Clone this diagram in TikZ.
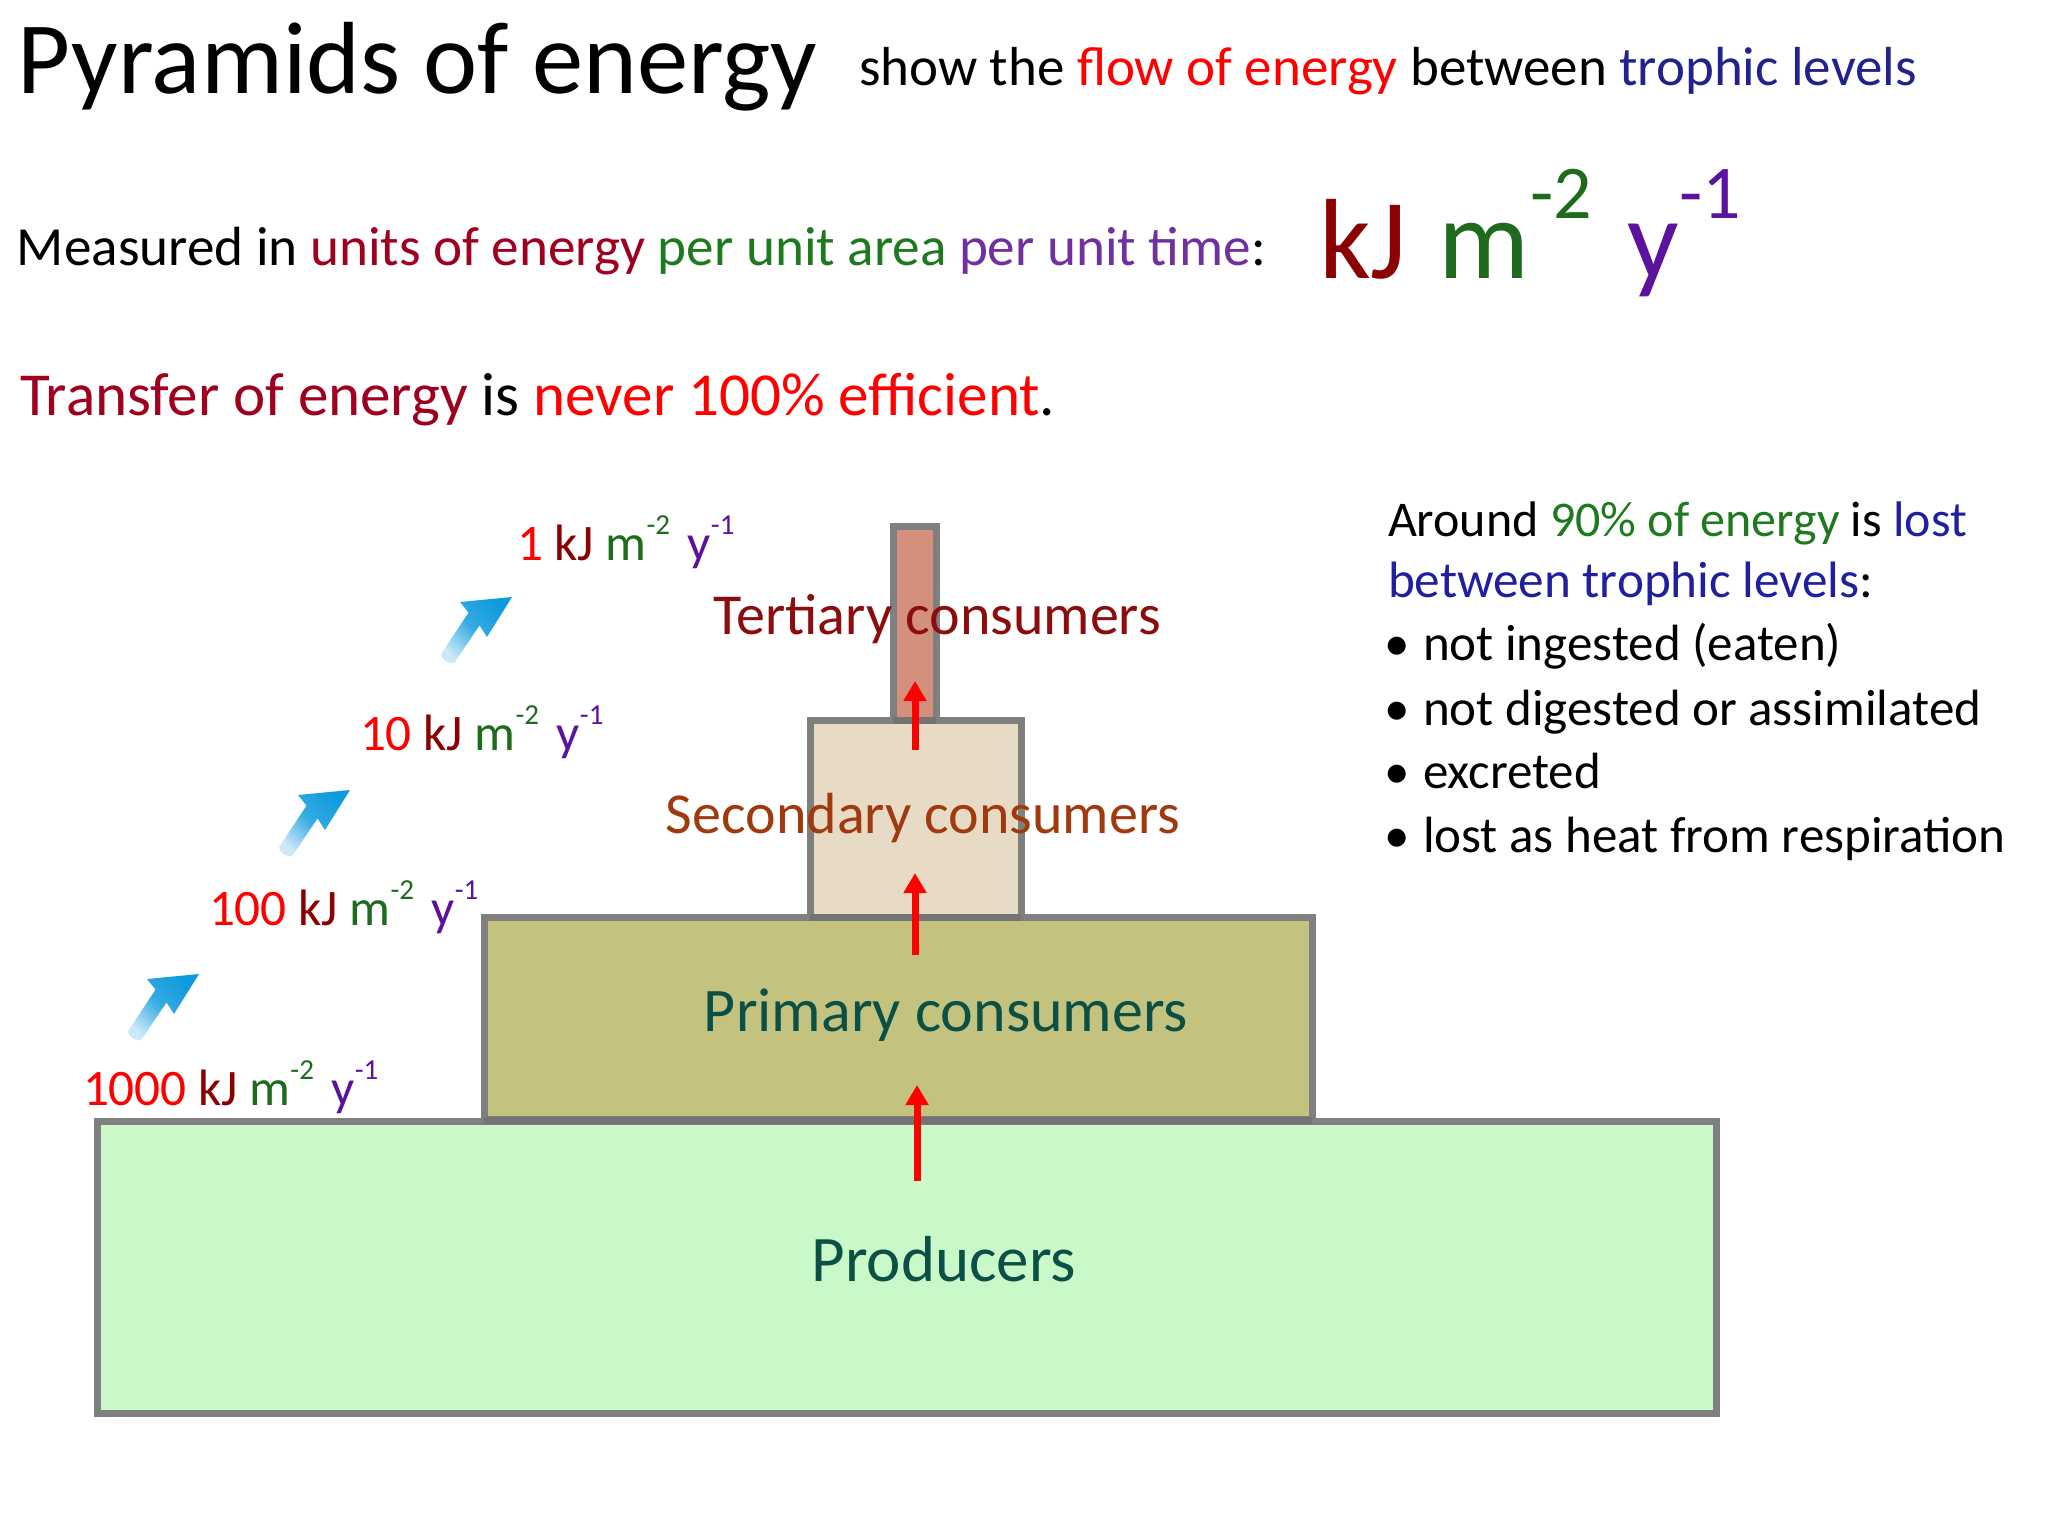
\documentclass[tikz,border=0pt]{standalone}
\usepackage{fontspec}
\setmainfont{Carlito}
\usetikzlibrary{arrows.meta,calc}
\definecolor{cred}{HTML}{FF0000}
\definecolor{ckj}{HTML}{8B0000}
\definecolor{cmaroon}{HTML}{A00020}
\definecolor{cm}{HTML}{1E6B1E}
\definecolor{cgreen}{HTML}{1F7A1F}
\definecolor{cy}{HTML}{5B139E}
\definecolor{cpurple}{HTML}{7030A0}
\definecolor{cnavy}{HTML}{22228F}
\definecolor{cblue}{HTML}{1F1FA0}
\definecolor{cteal}{HTML}{0B4F45}
\definecolor{csec}{HTML}{A0390E}
\definecolor{cter}{HTML}{8C0D0D}
\definecolor{bordergray}{HTML}{7F7F7F}
\definecolor{fprod}{HTML}{C9F9C9}
\definecolor{fprim}{HTML}{C3C37F}
\definecolor{fsec}{HTML}{E8DBC6}
\definecolor{fter}{HTML}{D4907D}
\definecolor{arrowblue}{HTML}{0E9BDD}
\definecolor{arrowlight}{HTML}{CDE9F9}
\newcommand\fs[1]{\fontsize{#1}{#1}\selectfont}
\newcommand\vlab[1]{{\color{cred}#1} {\color{ckj}kJ} {\color{cm}m\raisebox{13pt}{\fs{14.5}-2}}\hspace{3pt} {\color{cy}y\raisebox{13pt}{\fs{14.5}-1}}}
\tikzset{
  txt/.style={inner sep=0pt, outer sep=0pt, anchor=base west},
  ctxt/.style={inner sep=0pt, outer sep=0pt, anchor=base},
  level/.style={draw=bordergray, line width=3.5pt},
  flow/.style={draw=cred, line width=3.5pt, -{Triangle[width=11pt,length=10pt]}},
  blueflow/.style={bottom color=arrowlight, top color=arrowblue, middle color=arrowblue!80!arrowlight, shading angle=-45},
}
\begin{document}
\begin{tikzpicture}[x=0.5pt,y=0.5pt]
\useasboundingbox (0,0) rectangle (2048,-1536);
\fill[white] (0,0) rectangle (2048,-1536);

% header texts
\node[txt, font=\fs{51.3}] (title) at (18,-94) {Pyramids of energy};
\node[txt, font=\fs{27.5}] (sub) at (859,-86) {show the {\color{cred}flow of energy} between {\color{cnavy}trophic levels}};
\node[txt, font=\fs{27.6}] (meas) at (17,-265) {Measured in {\color{cmaroon}units of energy} {\color{cgreen}per unit area} {\color{cpurple}per unit time}:};
\node[txt, font=\fs{57}] (bigunit) at (1319,-278) {{\color{ckj}kJ}\hspace{3pt} {\color{cm}m\raisebox{30pt}{\fs{38}-2}}\hspace{5pt} {\color{cy}y\raisebox{30pt}{\fs{38}-1}}};
\node[txt, font=\fs{30.55}] (transfer) at (20,-415) {{\color{cmaroon}Transfer of energy} is {\color{cred}never 100\% efficient}.};

% right block
\node[txt, font=\fs{25}] (r1) at (1388,-536) {Around {\color{cgreen}90\% of energy} is {\color{cblue}lost}};
\node[txt, font=\fs{25.6}] (r2) at (1388,-597) {{\color{cblue}between trophic levels}:};
\foreach \yy/\tt [count=\i] in {660/not ingested (eaten),725/not digested or assimilated,788/excreted,852/lost as heat from respiration}{
  \node[ctxt, font=\fs{25.5}] (b\i) at (1397,-\yy) {•};
  \node[txt, font=\fs{25.5}] (bt\i) at (1423,-\yy) {\tt};
}

% pyramid
\path[level, fill=fprod] (97,-1121) rectangle (1716,-1413);
\path[level, fill=fprim] (484,-917) rectangle (1312,-1119);
\path[level, fill=fsec] (810,-720) rectangle (1021,-917);
\path[level, fill=fter] (893,-526) rectangle (936,-720);
\draw[draw=black!55, line width=3.5pt] (484,-1120) -- (1312,-1120);
\draw[draw=black!55, line width=3.5pt] (810,-917) -- (1021,-917);
\draw[draw=black!55, line width=3.5pt] (893,-720) -- (936,-720);

\node[ctxt, font=\fs{32.5}, text=cteal] (prod) at (944,-1281) {Producers};
\node[ctxt, font=\fs{31}, text=cteal] (prim) at (946,-1031) {Primary consumers};
\node[ctxt, font=\fs{29}, text=csec] (sec) at (923,-833) {Secondary consumers};
\node[ctxt, font=\fs{29}, text=cter] (ter) at (937,-634) {Tertiary consumers};

% red flow arrows
\coordinate (f1s) at (917,-1181); \coordinate (f1e) at (917,-1085);
\coordinate (f2s) at (915,-955);  \coordinate (f2e) at (915,-873);
\coordinate (f3s) at (915,-750);  \coordinate (f3e) at (915,-681);
\draw[flow] (f1s) -- (f1e);
\draw[flow] (f2s) -- (f2e);
\draw[flow] (f3s) -- (f3e);

% energy values
\node[txt, font=\fs{25.6}] (v1000) at (83,-1105) {\vlab{1000}};
\node[txt, font=\fs{25.6}] (v100) at (209,-925) {\vlab{100}};
\node[txt, font=\fs{25.6}] (v10) at (360,-750) {\vlab{10}};
\node[txt, font=\fs{25.6}] (v1) at (517,-560) {\vlab{1}};

% blue arrows
\foreach \tx/\ty in {199/-974, 350/-790, 512/-597}{
  \shade[blueflow, shift={(\tx,\ty)}] (0,0) -- (-52,-5) -- (-43.5,-15.6) -- (-70.6,-56.6)
    .. controls (-72,-62) and (-62,-68) .. (-57.4,-65.4) -- (-32.5,-28.4) -- (-25,-40) -- cycle;
}
\end{tikzpicture}
\end{document}
